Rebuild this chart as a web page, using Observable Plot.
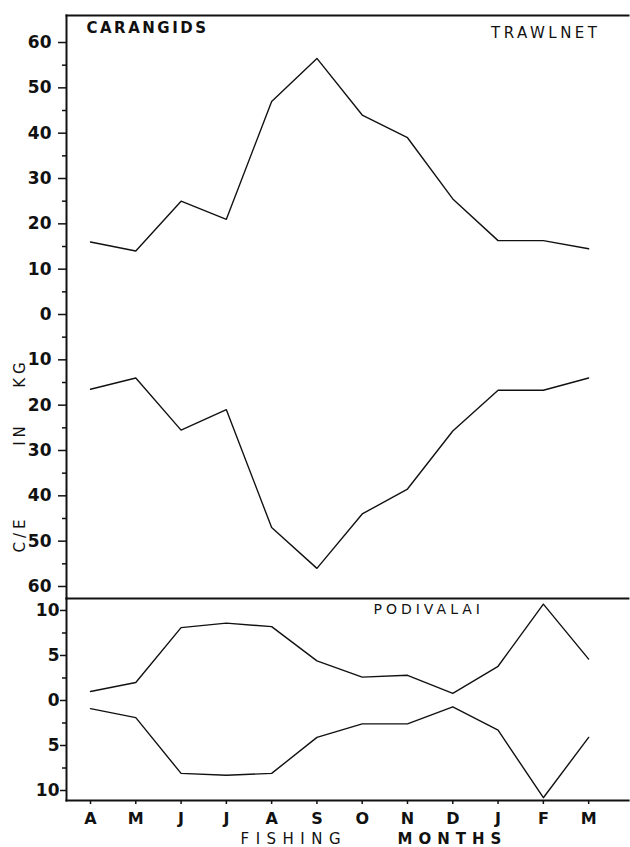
<!DOCTYPE html>
<html><head><meta charset="utf-8">
<script src="https://cdn.jsdelivr.net/npm/d3@7"></script>
<script src="https://cdn.jsdelivr.net/npm/@observablehq/plot@0.6"></script>
<style>body{margin:0;background:#fff} svg{display:block}</style>
</head><body><div id="chart"></div>
<script>
// ---- data ----
const months = ["A","M","J","J","A","S","O","N","D","J","F","M"];
const carangidsUpper = [16, 14, 25, 21, 47, 56.5, 44, 39, 25.5, 16.3, 16.3, 14.5];   // Trawlnet, drawn upwards
const carangidsLower = [16.5, 14, 25.5, 21, 47, 56, 44, 38.5, 25.7, 16.7, 16.7, 14]; // mirrored, drawn downwards
const podivalaiUpper = [1.0, 2.0, 8.1, 8.6, 8.2, 4.4, 2.6, 2.8, 0.8, 3.8, 10.7, 4.6];
const podivalaiLower = [0.9, 1.9, 8.1, 8.3, 8.1, 4.1, 2.6, 2.6, 0.7, 3.3, 10.8, 4.1];
const topTicks = [60, 50, 40, 30, 20, 10, 0, -10, -20, -30, -40, -50, -60];
const topMinorTicks = [55, 45, 35, 25, 15, 5, -5, -15, -25, -35, -45, -55];
const bottomTicks = [10, 5, 0, -5, -10];
const bottomMinorTicks = [7.5, 2.5, -2.5, -7.5];

const idx = months.map((m, i) => i);
const font = "DejaVu Sans";
const xScale = {type: "linear", domain: [-0.53, 11.88], axis: null};

const topPlot = Plot.plot({
  width: 630, height: 598,
  marginTop: 15, marginBottom: 0, marginLeft: 66, marginRight: 2,
  x: xScale,
  y: {domain: [-62.65, 65.96]},
  style: {fontFamily: font, color: "#111", background: "white", overflow: "visible"},
  marks: [
    Plot.frame({anchor: "left", strokeWidth: 2}),
    Plot.frame({anchor: "top", strokeWidth: 2}),
    Plot.frame({anchor: "bottom", strokeWidth: 1.8}),
    Plot.axisY(topMinorTicks, {tickSize: 4, strokeWidth: 1.5, tickFormat: () => "", label: null}),
    Plot.axisY(topTicks, {tickSize: 8, tickPadding: 7, strokeWidth: 1.5, tickFormat: d => Math.abs(d),
      fontSize: 17, fontWeight: "bold", label: null}),
    Plot.line(idx, {x: i => i, y: i => carangidsUpper[i], stroke: "#111", strokeWidth: 1.4}),
    Plot.line(idx, {x: i => i, y: i => -carangidsLower[i], stroke: "#111", strokeWidth: 1.4}),
    Plot.text(["CARANGIDS"], {frameAnchor: "top-left", dx: 20, dy: 7, fontSize: 15, fontWeight: "bold"}),
    Plot.text(["TRAWLNET"], {frameAnchor: "top-right", dx: -28, dy: 12, fontSize: 15}),
    Plot.text(["KG"], {frameAnchor: "left", textAnchor: "middle", rotate: -90, dx: -46, dy: 66, fontSize: 15}),
    Plot.text(["IN"], {frameAnchor: "left", textAnchor: "middle", rotate: -90, dx: -46, dy: 127, fontSize: 15}),
    Plot.text(["C/E"], {frameAnchor: "left", textAnchor: "middle", rotate: -90, dx: -46, dy: 227, fontSize: 15})
  ]
});

const bottomPlot = Plot.plot({
  width: 630, height: 249,
  marginTop: 0, marginBottom: 47, marginLeft: 66, marginRight: 2,
  x: xScale,
  y: {domain: [-11.11, 11.33]},
  style: {fontFamily: font, color: "#111", background: "white", overflow: "visible"},
  marks: [
    Plot.frame({anchor: "left", strokeWidth: 2}),
    Plot.frame({anchor: "bottom", strokeWidth: 2.2}),
    Plot.axisY(bottomMinorTicks, {tickSize: 4, strokeWidth: 1.5, tickFormat: () => "", label: null}),
    Plot.axisY(bottomTicks, {tickSize: 6, tickPadding: 1, strokeWidth: 1.5, tickFormat: d => Math.abs(d),
      fontSize: 17, fontWeight: "bold", label: null}),
    Plot.axisX(idx, {tickSize: 4, tickPadding: 8, strokeWidth: 1.5, tickFormat: i => months[i],
      fontSize: 16, fontWeight: "bold", label: null}),
    Plot.line(idx, {x: i => i, y: i => podivalaiUpper[i], stroke: "#111", strokeWidth: 1.4}),
    Plot.line(idx, {x: i => i, y: i => -podivalaiLower[i], stroke: "#111", strokeWidth: 1.4}),
    Plot.text(["PODIVALAI"], {frameAnchor: "top-left", dx: 307, dy: 6, fontSize: 14}),
    Plot.text(["FISHING"], {frameAnchor: "bottom-left", textAnchor: "start", lineAnchor: "middle", dx: 174, dy: 39, fontSize: 15}),
    Plot.text(["MONTHS"], {frameAnchor: "bottom-left", textAnchor: "start", lineAnchor: "middle", dx: 331, dy: 39, fontSize: 15, fontWeight: "bold"})
  ]
});

function spacing(svg, label, px) {
  d3.select(svg).selectAll("text").filter(function () { return this.textContent === label; })
    .attr("letter-spacing", px);
}
spacing(topPlot, "CARANGIDS", 2.5);
spacing(topPlot, "TRAWLNET", 3.5);
spacing(topPlot, "KG", 4);
spacing(topPlot, "IN", 4);
spacing(topPlot, "C/E", 4);
spacing(bottomPlot, "PODIVALAI", 4);
spacing(bottomPlot, "FISHING", 6.5);
spacing(bottomPlot, "MONTHS", 6);

document.getElementById("chart").append(topPlot, bottomPlot);
</script>
</body></html>
